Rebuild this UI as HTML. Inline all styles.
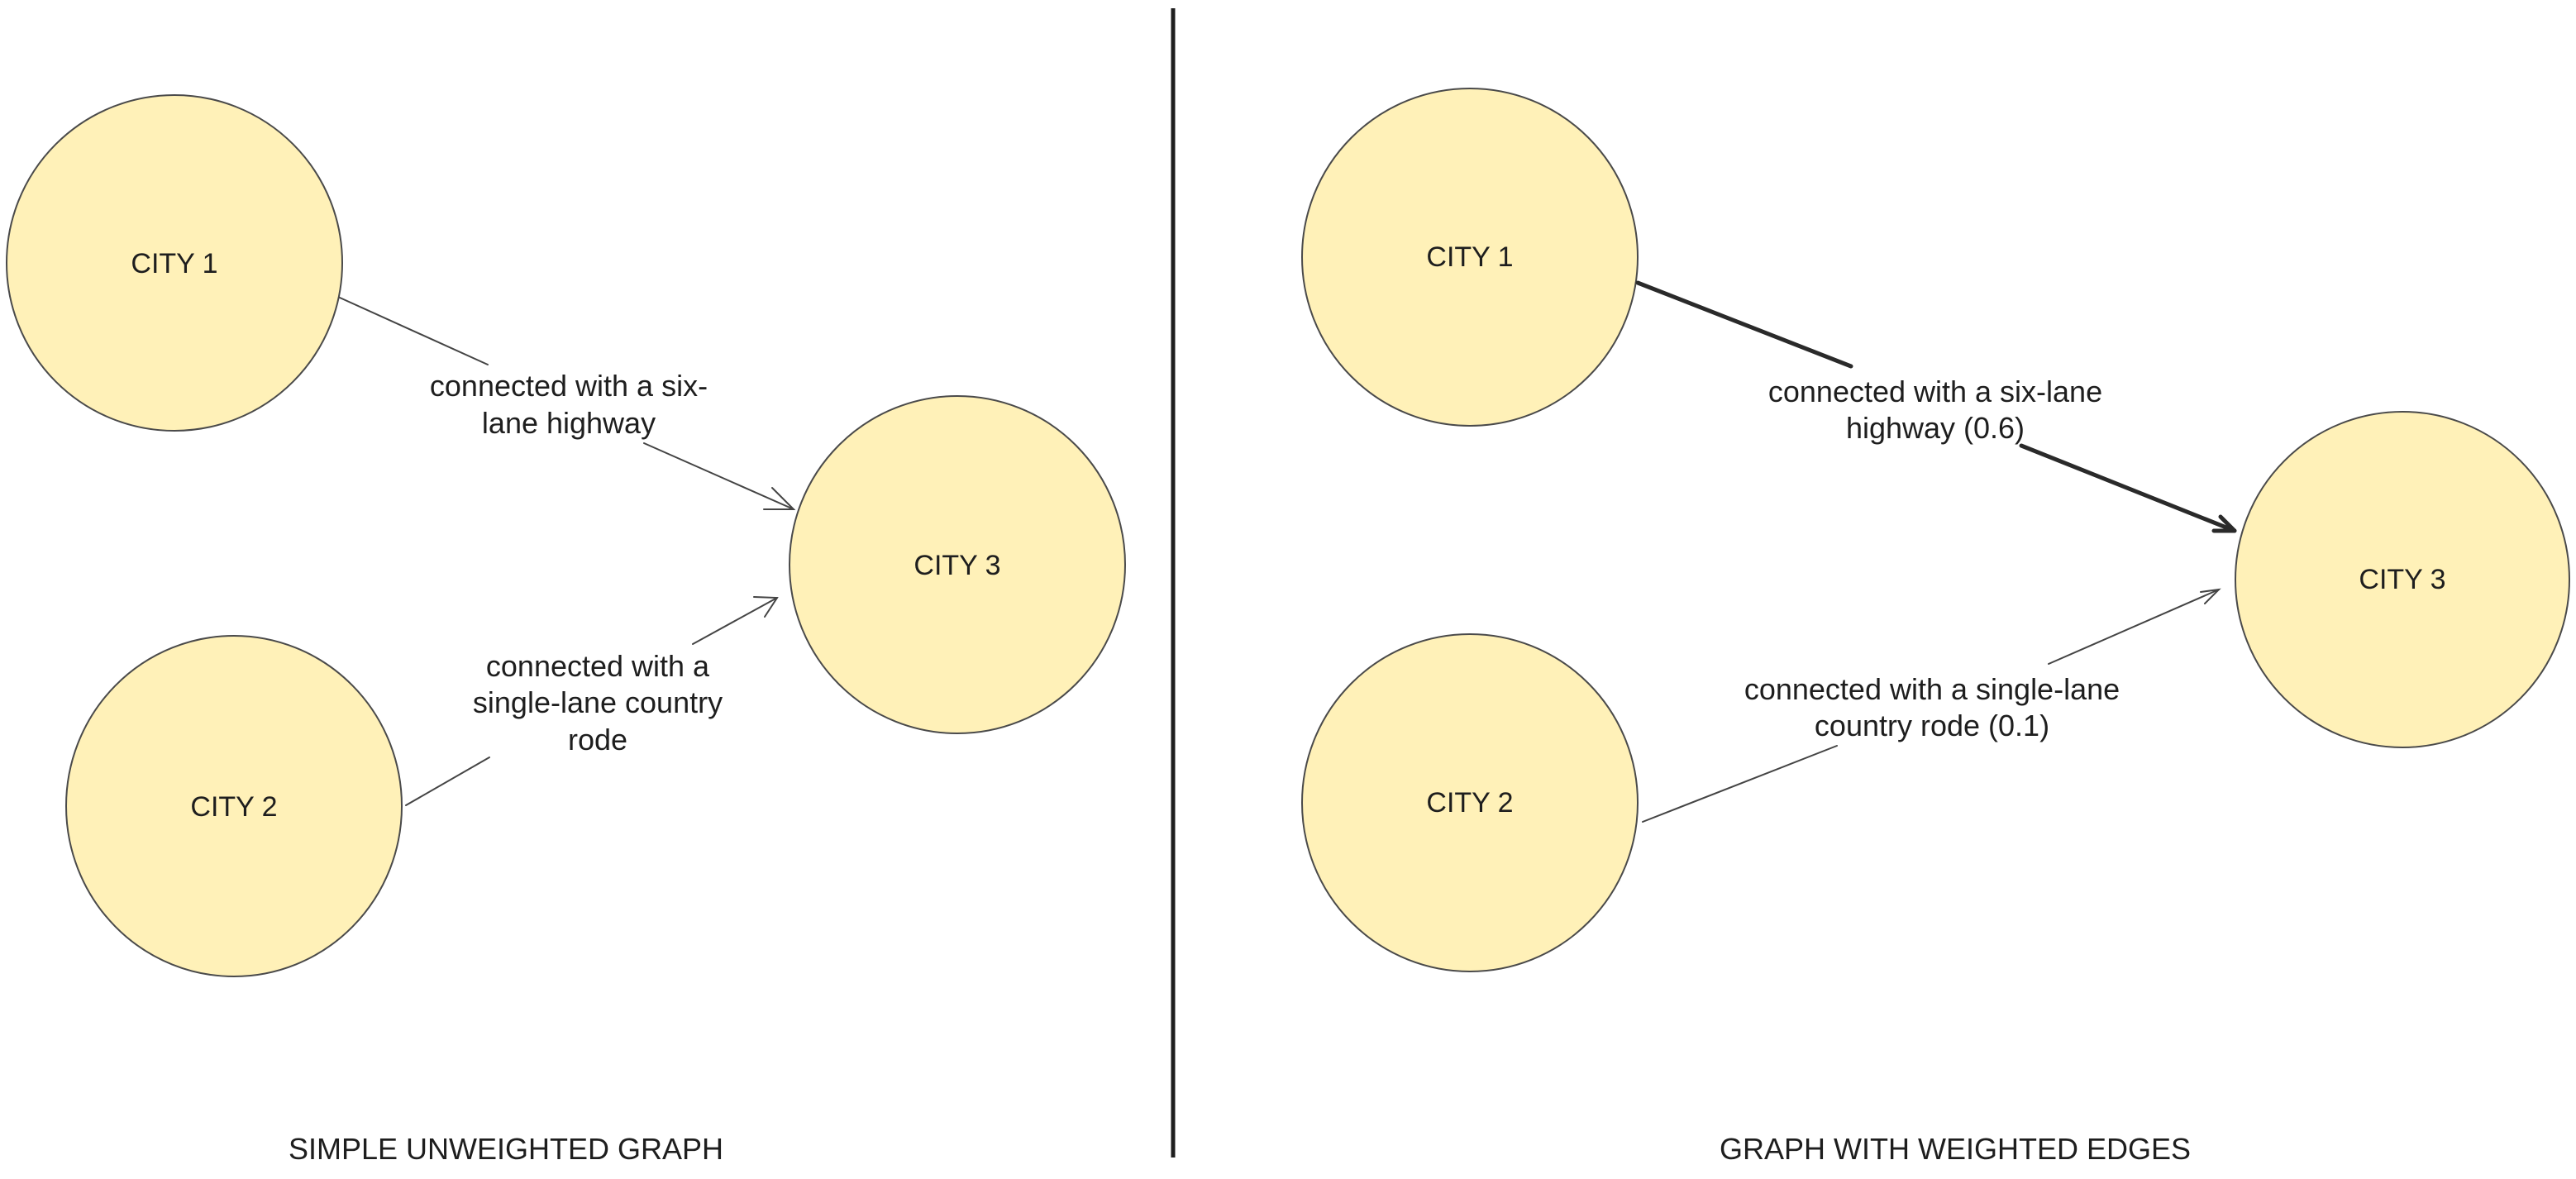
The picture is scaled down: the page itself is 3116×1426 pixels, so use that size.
<!DOCTYPE html>
<html><head><meta charset="utf-8"><style>
html,body{margin:0;padding:0;background:#fff;}
svg{display:block;}
text{font-family:"Liberation Sans",sans-serif;fill:#1e1e1e;}
</style></head><body>
<svg width="3116" height="1426" viewBox="0 0 3116 1426" xmlns="http://www.w3.org/2000/svg">
<g fill="#fff1b8" stroke="#4a4a4a" stroke-width="2">
<ellipse cx="211" cy="318" rx="203" ry="203"/>
<ellipse cx="283" cy="975" rx="203" ry="206"/>
<ellipse cx="1158" cy="683" rx="203" ry="204"/>
<ellipse cx="1778" cy="311" rx="203" ry="204"/>
<ellipse cx="1778" cy="971" rx="203" ry="204"/>
<ellipse cx="2906" cy="701" rx="202" ry="203"/>
</g>
<line x1="1419" y1="10" x2="1419" y2="1400" stroke="#1e1e1e" stroke-width="5"/>
<g stroke="#444" stroke-width="2" fill="none" stroke-linecap="round">
<line x1="411" y1="360" x2="590" y2="441"/>
<line x1="779" y1="536" x2="960" y2="616"/>
<polyline points="934,590 960,616 924,616"/>
<line x1="491" y1="974" x2="592" y2="916"/>
<line x1="838" y1="779" x2="940" y2="723"/>
<polyline points="912,722 940,723 925,746"/>
<line x1="1987" y1="994" x2="2222" y2="902"/>
<line x1="2478" y1="803" x2="2684" y2="713"/>
<polyline points="2662,716 2684,713 2667,730"/>
</g>
<g stroke="#2a2a2a" stroke-width="5" fill="none" stroke-linecap="round" stroke-linejoin="round">
<line x1="1981" y1="342" x2="2239" y2="443"/>
<line x1="2445" y1="539" x2="2703" y2="642"/>
<polyline points="2686,625 2703,642 2678,642"/>
</g>
<g font-size="34" text-anchor="middle">
<text x="211" y="330">CITY 1</text>
<text x="283" y="987">CITY 2</text>
<text x="1158" y="695">CITY 3</text>
<text x="1778" y="322">CITY 1</text>
<text x="1778" y="982">CITY 2</text>
<text x="2906" y="712">CITY 3</text>
</g>
<g font-size="36" text-anchor="middle">
<text x="688" y="479">connected with a six-</text>
<text x="688" y="524">lane highway</text>
<text x="723" y="818">connected with a</text>
<text x="723" y="862">single-lane country</text>
<text x="723" y="907">rode</text>
<text x="2341" y="486">connected with a six-lane</text>
<text x="2341" y="530">highway (0.6)</text>
<text x="2337" y="846">connected with a single-lane</text>
<text x="2337" y="890">country rode (0.1)</text>
</g>
<g font-size="36" text-anchor="middle">
<text x="612" y="1402">SIMPLE UNWEIGHTED GRAPH</text>
<text x="2365" y="1402">GRAPH WITH WEIGHTED EDGES</text>
</g>
</svg>
</body></html>
